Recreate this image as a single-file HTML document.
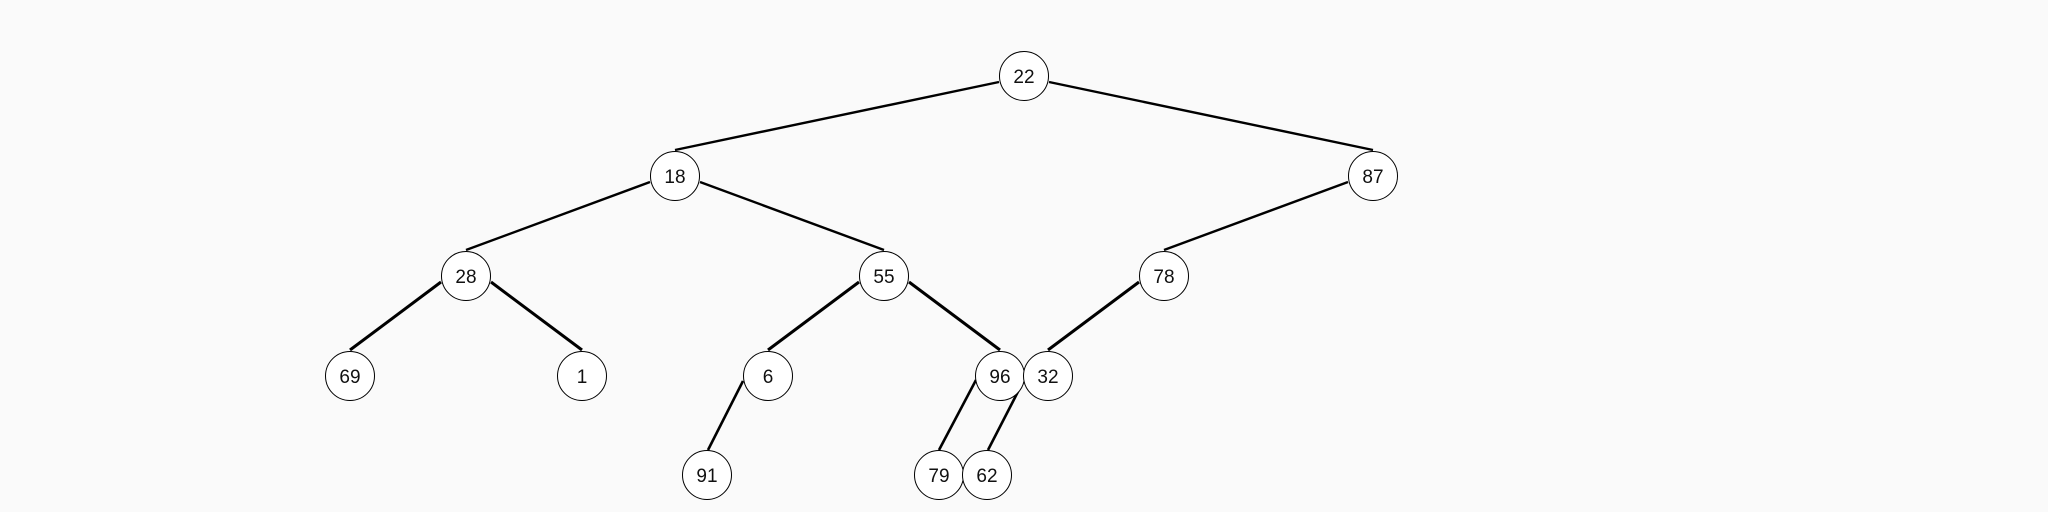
<!DOCTYPE html>
<html><head><meta charset="utf-8"><style>
html,body{margin:0;padding:0;background:#fafafa;}
svg{display:block;}
text{font-family:"Liberation Sans",Arial,sans-serif;font-size:19px;fill:#111;}
</style></head><body>
<svg width="2048" height="512" viewBox="0 0 2048 512" xmlns="http://www.w3.org/2000/svg">
<rect width="2048" height="512" fill="#fafafa"/>
<g stroke="#000" stroke-width="2.4" fill="none">
<line x1="999" y1="82" x2="675" y2="150"/>
<line x1="1049" y1="82" x2="1373" y2="150"/>
<line x1="650" y1="182" x2="466" y2="250"/>
<line x1="700" y1="182" x2="884" y2="250"/>
<line x1="1348" y1="182" x2="1164" y2="250"/>
<line x1="441" y1="282" x2="350" y2="350" stroke-width="3"/>
<line x1="491" y1="282" x2="582" y2="350" stroke-width="3"/>
<line x1="859" y1="282" x2="768" y2="350" stroke-width="3"/>
<line x1="909" y1="282" x2="1000" y2="350" stroke-width="3"/>
<line x1="1139" y1="282" x2="1048" y2="350" stroke-width="3"/>
<line x1="743" y1="381" x2="708" y2="450" stroke-width="2.6"/>
<line x1="976" y1="380" x2="939" y2="450" stroke-width="2.6"/>
<line x1="1024" y1="380" x2="988" y2="450" stroke-width="2.6"/>
</g>
<g fill="#fff" stroke="#000" stroke-width="1">
<circle cx="1024" cy="76" r="24.5"/>
<circle cx="675" cy="176" r="24.5"/>
<circle cx="1373" cy="176" r="24.5"/>
<circle cx="466" cy="276" r="24.5"/>
<circle cx="884" cy="276" r="24.5"/>
<circle cx="1164" cy="276" r="24.5"/>
<circle cx="350" cy="376" r="24.5"/>
<circle cx="582" cy="376" r="24.5"/>
<circle cx="768" cy="376" r="24.5"/>
<circle cx="1000" cy="376" r="24.5"/>
<circle cx="1048" cy="376" r="24.5"/>
<circle cx="707" cy="475" r="24.5"/>
<circle cx="939" cy="475" r="24.5"/>
<circle cx="987" cy="475" r="24.5"/>
</g>
<g text-anchor="middle">
<text x="1024" y="83">22</text>
<text x="675" y="183">18</text>
<text x="1373" y="183">87</text>
<text x="466" y="283">28</text>
<text x="884" y="283">55</text>
<text x="1164" y="283">78</text>
<text x="350" y="383">69</text>
<text x="582" y="383">1</text>
<text x="768" y="383">6</text>
<text x="1000" y="383">96</text>
<text x="1048" y="383">32</text>
<text x="707" y="482">91</text>
<text x="939" y="482">79</text>
<text x="987" y="482">62</text>
</g>
</svg>
</body></html>
